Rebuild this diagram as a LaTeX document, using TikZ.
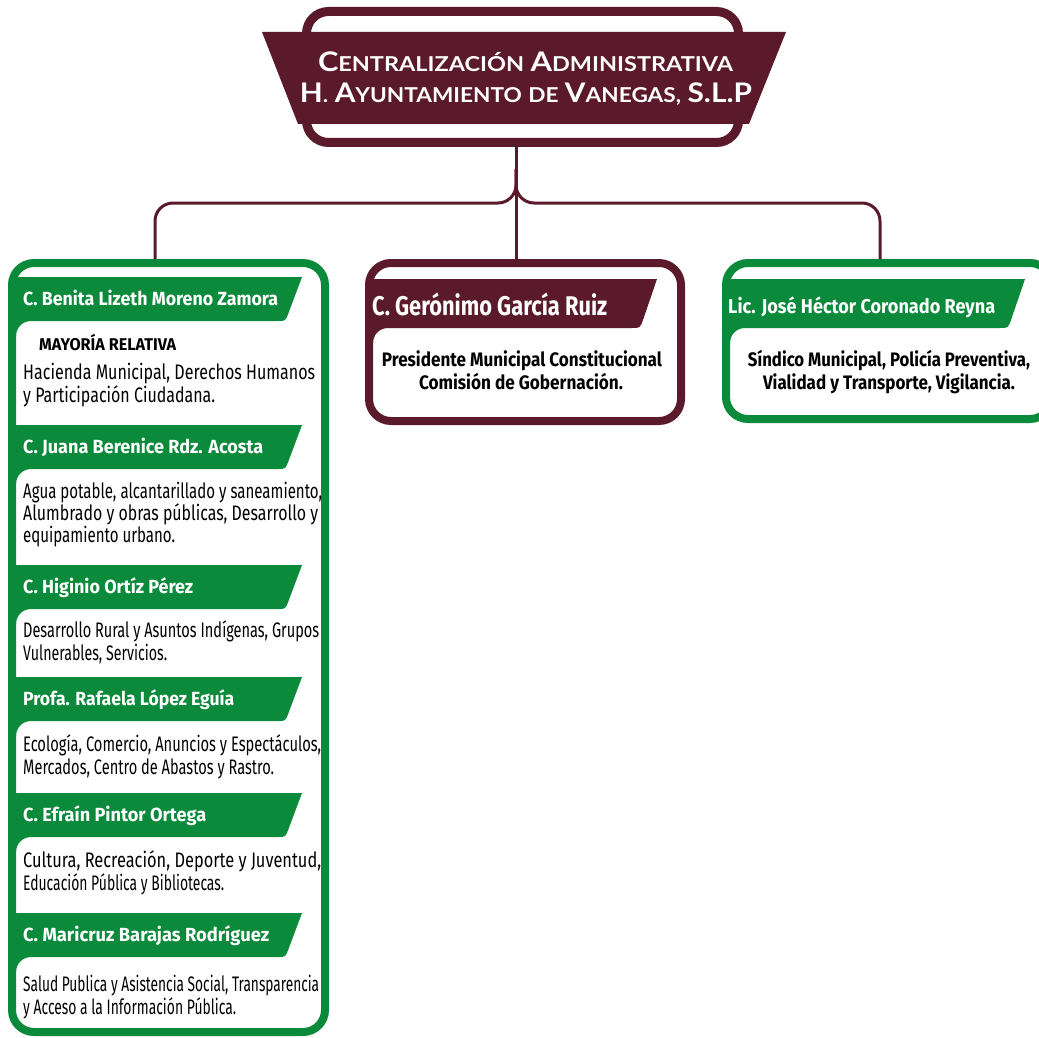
\documentclass[tikz,border=0pt]{standalone}
\usepackage{fontspec}
\setmainfont{Fira Sans}
\newfontfamily\titfont{Lato}
\definecolor{vino}{HTML}{5B1A2B}
\definecolor{verde}{HTML}{0B8A3B}
\newcommand\ajus[2]{\resizebox{#1pt}{\height}{#2}}
\newcommand\versal[2]{{\fontsize{27}{27}\selectfont #1}{\fontsize{20.5}{20.5}\selectfont #2}}

\begin{document}
\begin{tikzpicture}
[x=1pt, y=-1pt, every node/.style={inner sep=0pt},
 marco/.style={line width=8pt, rounded corners=22pt, fill=white},
 enlace/.style={draw=vino, line width=3pt, rounded corners=18pt},
 titulo/.style={anchor=base, text=white, font=\titfont\bfseries\fontsize{24}{24}\selectfont},
 nombre/.style={anchor=base west, text=white, font=\bfseries\fontsize{19}{19}\selectfont},
 cargo/.style={anchor=base west, font=\fontsize{21}{21}\selectfont},
 centro/.style={anchor=base, font=\bfseries\fontsize{19.5}{19.5}\selectfont}]
\useasboundingbox (0,0) rectangle (1039,1038);

\fill[vino] (262,32) -- (786,32) -- (749,124) -- (298,124) -- cycle;
\node (cab) [draw=vino, line width=9pt, rounded corners=22pt, minimum width=432pt, minimum height=131pt] at (522.5,77) {};
\node (tit1) [titulo] at (525.5,72) {\ajus{415}{\versal{C}{ENTRALIZACIÓN} \versal{A}{DMINISTRATIVA}}};
\node (tit2) [titulo] at (526,103) {\ajus{452}{\versal{H}{.} \versal{A}{YUNTAMIENTO} \versal{}{DE} \versal{V}{ANEGAS,} \versal{S.L.P}{}}};

\node (regs) [marco, draw=verde, minimum width=313pt, minimum height=769pt] at (168.5,647.5) {};
\node (pres) [marco, draw=vino, minimum width=312pt, minimum height=158pt] at (525,342) {};
\node (sind) [marco, draw=verde, minimum width=326pt, minimum height=156pt] at (889,341) {};

\coordinate (hub) at (516,203);
\coordinate (izq) at (155,203);
\coordinate (der) at (880,203);
\draw[enlace] (cab.south -| hub) -- (pres.north -| hub);
\draw[enlace] (hub) ++(0,-34) -- (hub) -- (izq) -- (regs.north -| izq);
\draw[enlace] (hub) ++(0,-34) -- (hub) -- (der) -- (sind.north -| der);

\foreach \t in {277,425,565,677,793,913}
  \fill[verde] (14,\t) -- (302,\t) -- (288.5,\t+36) .. controls (285.5,\t+44) .. (278,\t+44) -- (31,\t+44) .. controls (22.7,\t+44) and (16,\t+50.7) .. (16,\t+59) -- cycle;
\fill[vino] (371,279) -- (657,279) -- (643,320) .. controls (640,328) .. (632,328) -- (388,328) .. controls (379.7,328) and (373,334.7) .. (373,343) -- cycle;
\fill[verde] (728,279) -- (1025,279) -- (1011,320) .. controls (1008,328) .. (1000,328) -- (745,328) .. controls (736.7,328) and (730,334.7) .. (730,343) -- cycle;

\node (nom1) [nombre] at (23,305) {\ajus{255}{C. Benita Lizeth Moreno Zamora}};
\node (may1) [nombre, text=black, font=\bfseries\fontsize{17}{17}\selectfont] at (39,350) {\ajus{137}{MAYORÍA RELATIVA}};
\node (car1a) [cargo] at (23,379) {\ajus{292}{Hacienda Municipal, Derechos Humanos}};
\node (car1b) [cargo] at (23,402) {\ajus{192}{y Participación Ciudadana.}};

\node (nom2) [nombre] at (23,453) {\ajus{240}{C. Juana Berenice Rdz. Acosta}};
\node (car2a) [cargo] at (23,498) {\ajus{299}{Agua potable, alcantarillado y saneamiento,}};
\node (car2b) [cargo] at (23,520) {\ajus{295}{Alumbrado y obras públicas, Desarrollo y}};
\node (car2c) [cargo] at (23,542) {\ajus{152}{equipamiento urbano.}};

\node (nom3) [nombre] at (23,593) {\ajus{170}{C. Higinio Ortíz Pérez}};
\node (car3a) [cargo] at (23,637) {\ajus{296}{Desarrollo Rural y Asuntos Indígenas, Grupos}};
\node (car3b) [cargo] at (23,660) {\ajus{144}{Vulnerables, Servicios.}};

\node (nom4) [nombre] at (23,705) {\ajus{211}{Profa. Rafaela López Eguía}};
\node (car4a) [cargo] at (23,751) {\ajus{298}{Ecología, Comercio, Anuncios y Espectáculos,}};
\node (car4b) [cargo] at (23,774) {\ajus{251}{Mercados, Centro de Abastos y Rastro.}};

\node (nom5) [nombre] at (23,821) {\ajus{183}{C. Efraín Pintor Ortega}};
\node (car5a) [cargo] at (23,867) {\ajus{298}{Cultura, Recreación, Deporte y Juventud,}};
\node (car5b) [cargo] at (23,890) {\ajus{201}{Educación Pública y Bibliotecas.}};

\node (nom6) [nombre] at (23,941) {\ajus{246}{C. Maricruz Barajas Rodríguez}};
\node (car6a) [cargo] at (23,991) {\ajus{296}{Salud Publica y Asistencia Social, Transparencia}};
\node (car6b) [cargo] at (23,1014) {\ajus{213}{y Acceso a la Información Pública.}};

\node (nom7) [nombre, font=\bfseries\fontsize{27}{27}\selectfont] at (372,315) {\ajus{235}{C. Gerónimo García Ruiz}};
\node (car7a) [centro] at (522,366) {\ajus{280}{Presidente Municipal Constitucional}};
\node (car7b) [centro] at (521,389) {\ajus{204}{Comisión de Gobernación.}};

\node (nom8) [nombre, font=\bfseries\fontsize{20}{20}\selectfont] at (728,313) {\ajus{267}{Lic. José Héctor Coronado Reyna}};
\node (car8a) [centro] at (889,366) {\ajus{282}{Síndico Municipal, Policía Preventiva,}};
\node (car8b) [centro] at (889,389) {\ajus{252}{Vialidad y Transporte, Vigilancia.}};
\end{tikzpicture}
\end{document}
